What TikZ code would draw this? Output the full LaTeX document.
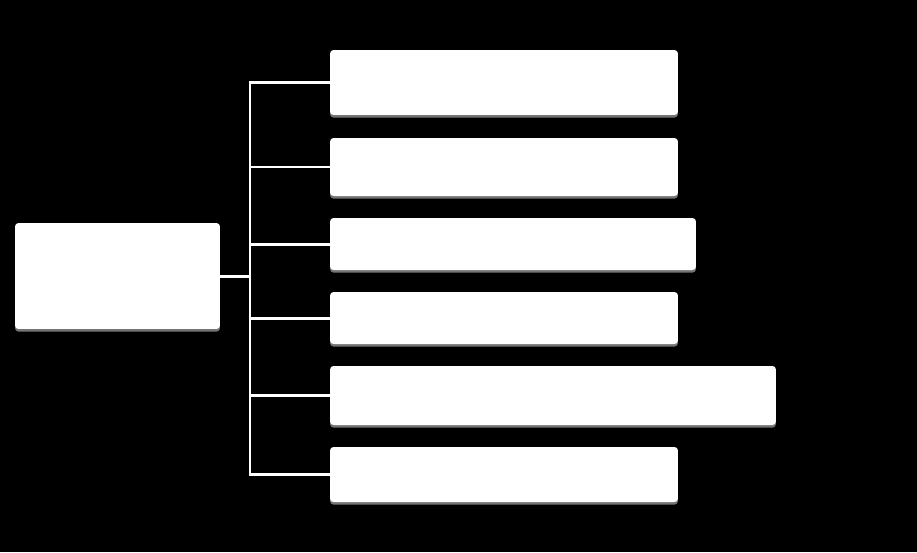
\documentclass[tikz,border=0pt]{standalone}
\usetikzlibrary{shadows}
\begin{document}
\begin{tikzpicture}[x=0.02cm,y=-0.02cm,
        box/.style={fill=white,rounded corners=2pt,inner sep=0pt,minimum width=6.96cm,
            drop shadow={shadow xshift=0pt,shadow yshift=-1.5pt,fill=gray!70,opacity=0.7}},
        link/.style={draw=white,line width=1.7pt}]
        \fill[black] (0,0) rectangle (917,552);
        \useasboundingbox (0,0) rectangle (917,552);
        \node[box,minimum width=4.1cm,minimum height=2.12cm] (root) at (117.5,276) {};
        \node[box,minimum height=1.3cm] (b1) at (504,82.5) {};
        \node[box,minimum height=1.16cm] (b2) at (504,167) {};
        \node[box,minimum width=7.32cm,minimum height=1.04cm] (b3) at (513,244) {};
        \node[box,minimum height=1.04cm] (b4) at (504,318) {};
        \node[box,minimum width=8.92cm,minimum height=1.18cm] (b5) at (553,395.5) {};
        \node[box,minimum height=1.1cm] (b6) at (504,474.5) {};
        \coordinate (j) at (250,276);
        \draw[link] (b1.west) -| (j) |- (b6.west);
        \draw[link] (root.east) -- (j);
        \draw[link] (j |- b2.west) -- (b2.west);
        \draw[link] (j |- b3.west) -- (b3.west);
        \draw[link] (j |- b4.west) -- (b4.west);
        \draw[link] (j |- b5.west) -- (b5.west);
\end{tikzpicture}
\end{document}
